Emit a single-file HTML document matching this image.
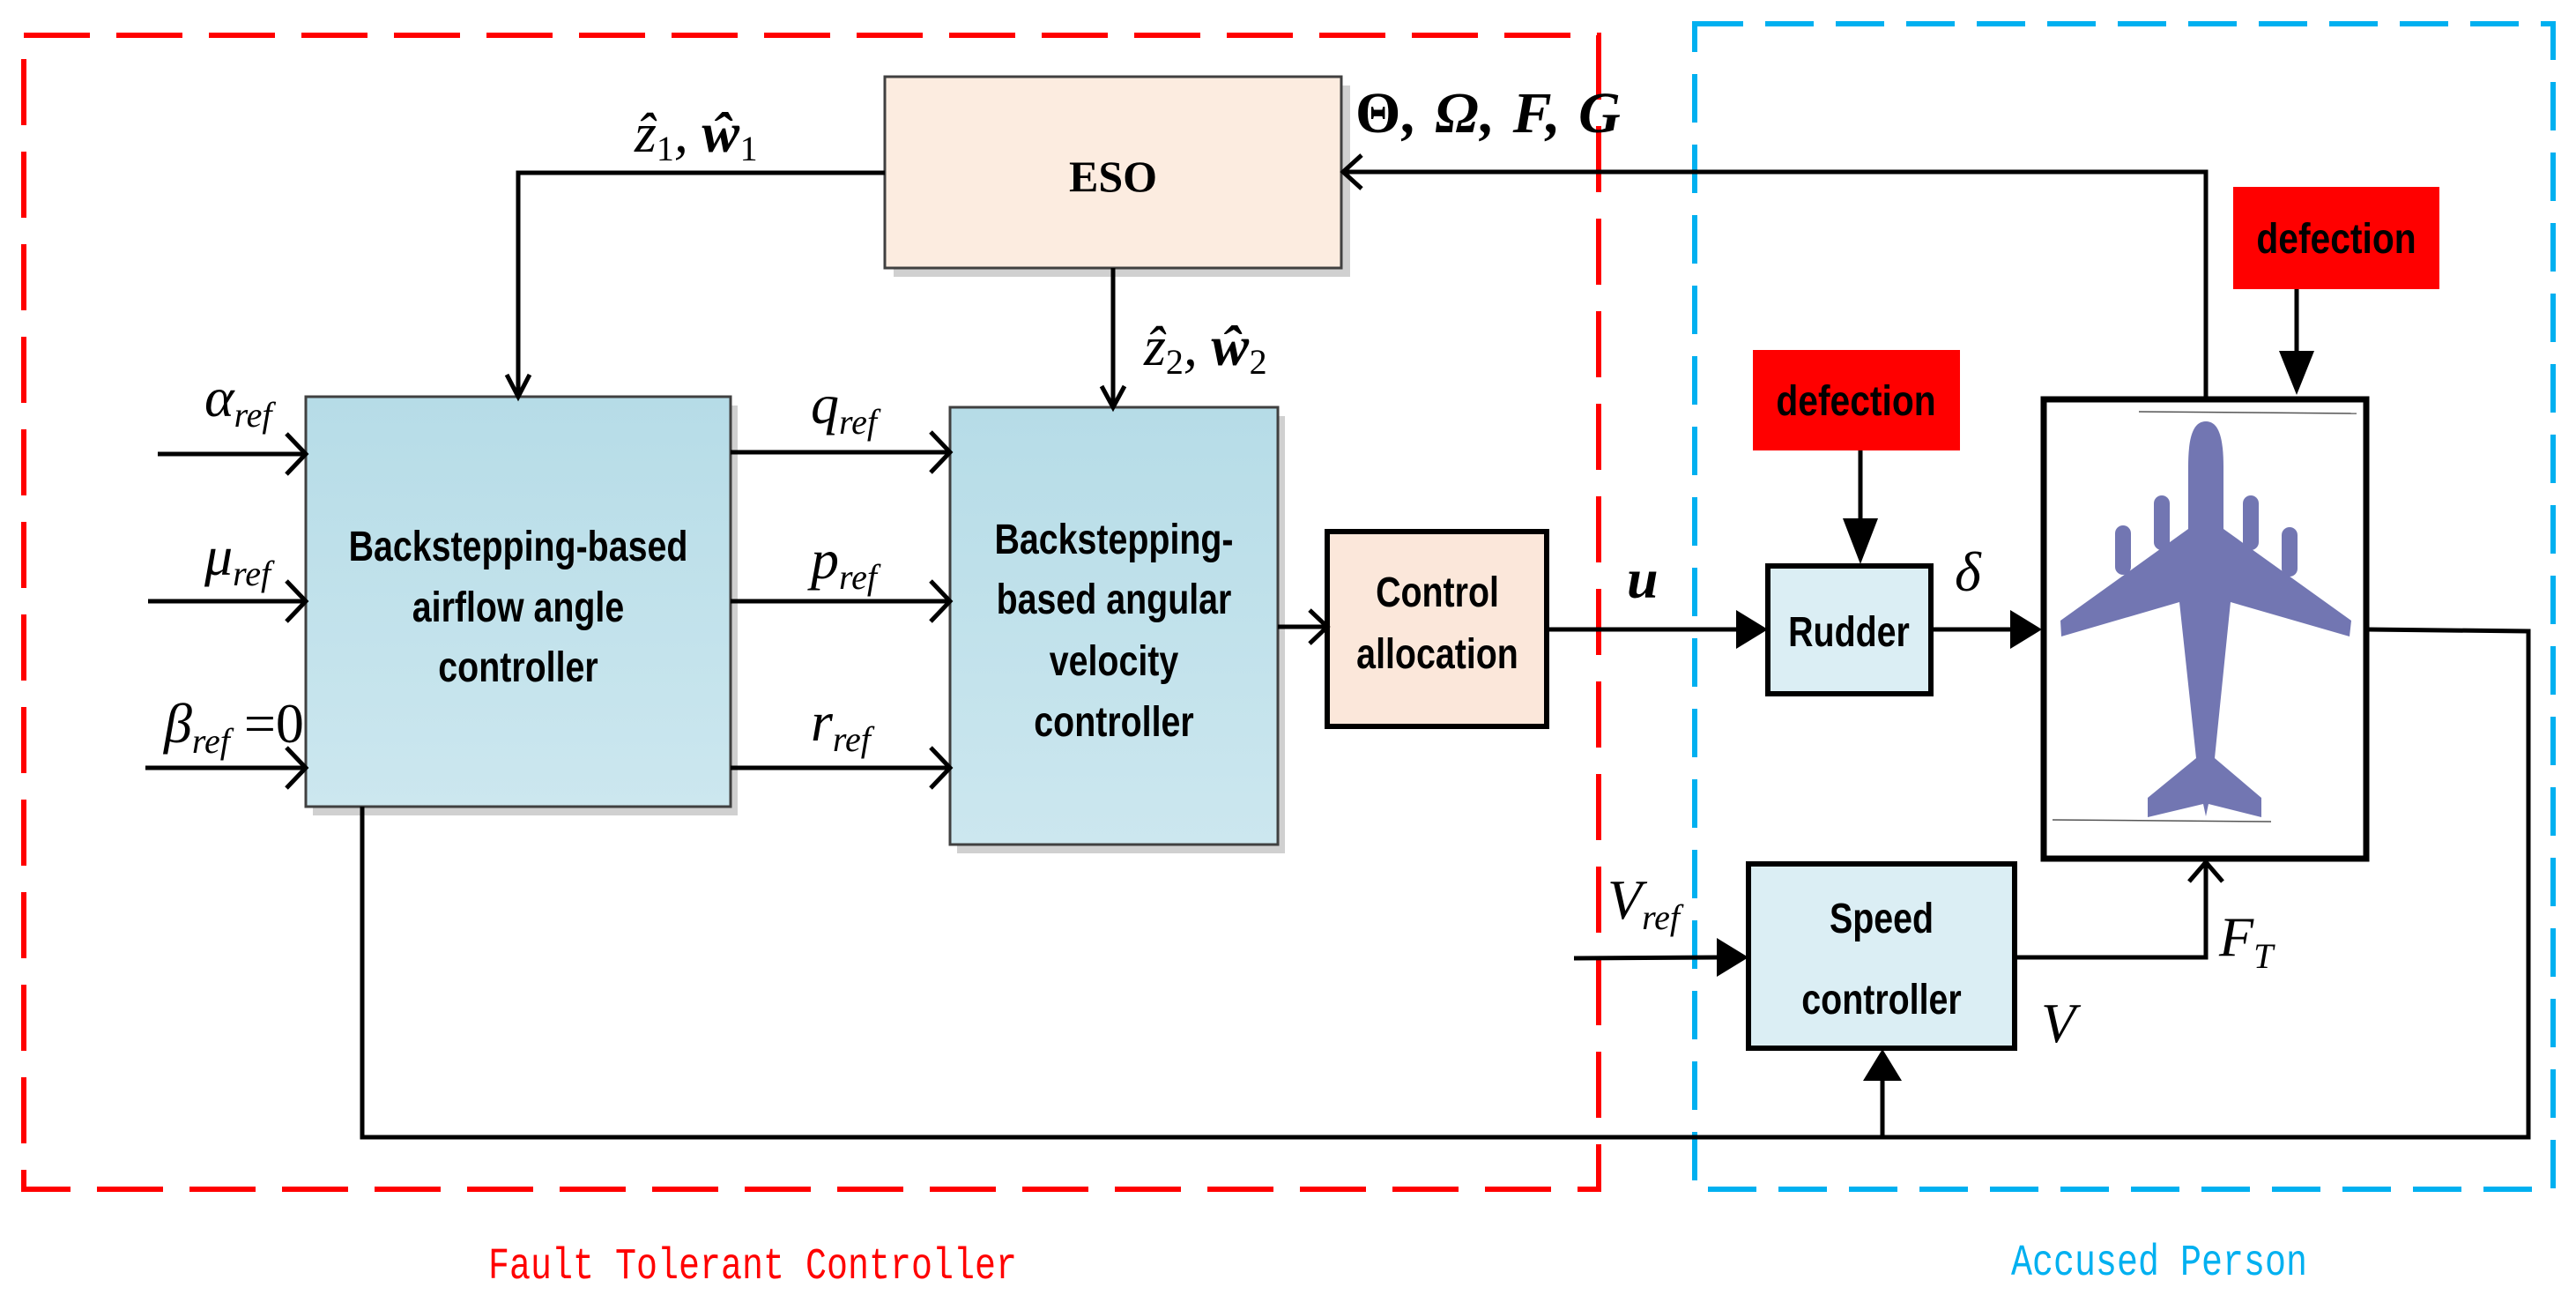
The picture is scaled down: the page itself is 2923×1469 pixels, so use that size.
<!DOCTYPE html>
<html><head><meta charset="utf-8"><style>
html,body{margin:0;padding:0;background:#fff}
svg{display:block}
.bx{font-family:"Liberation Sans Narrow","Liberation Sans",sans-serif;font-weight:bold;font-size:48px;text-anchor:middle;fill:#000}
.m{font-family:"Liberation Serif",serif;font-style:italic;font-size:64px;fill:#000}
.s{font-size:40px}
</style></head><body>
<svg width="2923" height="1469" viewBox="0 0 2923 1469" xmlns="http://www.w3.org/2000/svg">
<defs>
<linearGradient id="bl" x1="0" y1="0" x2="0" y2="1"><stop offset="0" stop-color="#b6dce7"/><stop offset="1" stop-color="#cce7ef"/></linearGradient>
</defs>
<rect x="27" y="40" width="1787" height="1309" fill="none" stroke="#f00" stroke-width="6" stroke-dasharray="75 30"/>
<rect x="1923" y="27" width="974" height="1322" fill="none" stroke="#00b0f0" stroke-width="6" stroke-dasharray="55 25"/>

<rect x="1014" y="97" width="518" height="217" fill="#d0d0d0"/>
<rect x="1004" y="87" width="518" height="217" fill="#fcece0" stroke="#404040" stroke-width="3"/>
<text x="1263" y="217" font-family="Liberation Serif,serif" font-weight="bold" font-size="50" text-anchor="middle">ESO</text>

<rect x="355" y="460" width="482" height="465" fill="#d0d0d0"/>
<rect x="347" y="450" width="482" height="465" fill="url(#bl)" stroke="#404040" stroke-width="3"/>
<g transform="translate(588,0) scale(0.82,1)">
<text class="bx" x="0" y="636">Backstepping-based</text>
<text class="bx" x="0" y="705">airflow angle</text>
<text class="bx" x="0" y="773">controller</text>
</g>

<rect x="1086" y="472" width="372" height="496" fill="#d0d0d0"/>
<rect x="1078" y="462" width="372" height="496" fill="url(#bl)" stroke="#404040" stroke-width="3"/>
<g transform="translate(1264,0) scale(0.82,1)">
<text class="bx" x="0" y="628">Backstepping-</text>
<text class="bx" x="0" y="696">based angular</text>
<text class="bx" x="0" y="766">velocity</text>
<text class="bx" x="0" y="835">controller</text>
</g>

<rect x="1506" y="603" width="249" height="221" fill="#fbe7da" stroke="#000" stroke-width="6"/>
<g transform="translate(1631,0) scale(0.82,1)">
<text class="bx" x="0" y="688">Control</text>
<text class="bx" x="0" y="758">allocation</text>
</g>

<rect x="2006" y="642" width="185" height="145" fill="#dbeef4" stroke="#000" stroke-width="6"/>
<g transform="translate(2098,0) scale(0.82,1)"><text class="bx" x="0" y="733">Rudder</text></g>

<rect x="1984" y="980" width="302" height="209" fill="#dbeef4" stroke="#000" stroke-width="6"/>
<g transform="translate(2135,0) scale(0.82,1)">
<text class="bx" x="0" y="1058">Speed</text>
<text class="bx" x="0" y="1150">controller</text>
</g>

<rect x="2534" y="212" width="234" height="116" fill="#f00"/>
<g transform="translate(2651,0) scale(0.85,1)"><text class="bx" x="0" y="287">defection</text></g>
<rect x="1989" y="397" width="235" height="114" fill="#f00"/>
<g transform="translate(2106,0) scale(0.85,1)"><text class="bx" x="0" y="471">defection</text></g>

<rect x="2319" y="453" width="366" height="521" fill="#fff" stroke="#000" stroke-width="7"/>
<line x1="2427" y1="467" x2="2674" y2="469" stroke="#555" stroke-width="1.5"/>
<line x1="2329" y1="930" x2="2577" y2="932" stroke="#555" stroke-width="1.5"/>
<g fill="#7276b2">
<rect x="2400" y="596" width="18" height="56" rx="9"/>
<rect x="2444" y="562" width="18" height="62" rx="9"/>
<rect x="2545" y="562" width="18" height="62" rx="9"/>
<rect x="2589" y="598" width="18" height="56" rx="9"/>
<path d="M2503 478 C2487 478 2483 500 2483 530 L2483 600 L2338 704 L2339 722 L2473 683 L2492 860 L2437 905 L2437 927 L2500 912 L2503 926 L2506 912 L2566 927 L2566 905 L2513 860 L2531 683 L2666 722 L2668 704 L2523 600 L2523 530 C2523 500 2519 478 2503 478 Z"/>
</g>

<g stroke="#000" stroke-width="5" fill="none">
<polyline points="1004,196 588,196 588,447"/>
<polyline points="575,425 588,450 601,425"/>
<line x1="1263" y1="304" x2="1263" y2="459"/>
<polyline points="1250,438 1263,462 1276,438"/>
<line x1="179" y1="515" x2="344" y2="515"/>
<polyline points="325,492 347,515 325,538"/>
<line x1="168" y1="682" x2="344" y2="682"/>
<polyline points="325,659 347,682 325,705"/>
<line x1="165" y1="871" x2="344" y2="871"/>
<polyline points="325,848 347,871 325,894"/>
<line x1="829" y1="513" x2="1075" y2="513"/>
<polyline points="1056,490 1078,513 1056,536"/>
<line x1="829" y1="682" x2="1075" y2="682"/>
<polyline points="1056,659 1078,682 1056,705"/>
<line x1="829" y1="871" x2="1075" y2="871"/>
<polyline points="1056,848 1078,871 1056,894"/>
<line x1="1450" y1="711" x2="1503" y2="711"/>
<polyline points="1486,692 1506,711 1486,730"/>
<line x1="1755" y1="714" x2="1975" y2="714"/>
<line x1="2191" y1="714" x2="2285" y2="714"/>
<polyline points="2503,451 2503,195 1525,195"/>
<polyline points="1545,176 1524,195 1545,214"/>
<polyline points="2686,714 2869,716 2869,1290 411,1290 411,915"/>
<line x1="2136" y1="1290" x2="2136" y2="1225"/>
<line x1="1786" y1="1087" x2="1950" y2="1086"/>
<polyline points="2286,1086 2503,1086 2503,978"/>
<polyline points="2484,1000 2503,978 2522,1000"/>
<line x1="2606" y1="328" x2="2606" y2="400"/>
<line x1="2111" y1="511" x2="2111" y2="590"/>
</g>
<g fill="#000">
<polygon points="1970,692 2006,714 1970,736"/>
<polygon points="2281,692 2317,714 2281,736"/>
<polygon points="1948,1064 1984,1086 1948,1108"/>
<polygon points="2114,1226 2136,1190 2158,1226"/>
<polygon points="2586,398 2606,448 2626,398"/>
<polygon points="2091,588 2111,640 2131,588"/>
</g>

<text class="m" x="720" y="172">ẑ<tspan class="s" font-style="normal" dy="10">1</tspan><tspan dy="-10">, </tspan><tspan font-weight="bold">ŵ</tspan><tspan class="s" font-style="normal" dy="10">1</tspan></text>
<text class="m" x="1298" y="414">ẑ<tspan class="s" font-style="normal" dy="10">2</tspan><tspan dy="-10">, </tspan><tspan font-weight="bold">ŵ</tspan><tspan class="s" font-style="normal" dy="10">2</tspan></text>
<text x="1538" y="150" font-family="Liberation Serif,serif" font-weight="bold" font-style="italic" font-size="66" letter-spacing="2"><tspan font-style="normal">Θ</tspan>, Ω, F, G</text>
<text class="m" x="232" y="472">α<tspan class="s" dy="12">ref</tspan></text>
<text class="m" x="232" y="652">μ<tspan class="s" dy="12">ref</tspan></text>
<text class="m" x="186" y="842">β<tspan class="s" dy="12">ref</tspan><tspan font-style="normal" dy="-12"> =0</tspan></text>
<text class="m" x="920" y="480">q<tspan class="s" dy="12">ref</tspan></text>
<text class="m" x="920" y="656">p<tspan class="s" dy="12">ref</tspan></text>
<text class="m" x="920" y="840">r<tspan class="s" dy="12">ref</tspan></text>
<text class="m" x="1846" y="678" font-weight="bold" font-size="66">u</text>
<text class="m" x="2218" y="670">δ</text>
<text class="m" x="1824" y="1042">V<tspan class="s" dy="12">ref</tspan></text>
<text class="m" x="2518" y="1084">F<tspan class="s" dy="14">T</tspan></text>
<text class="m" x="2316" y="1182">V</text>

<g transform="translate(554,0) scale(0.8,1)"><text x="0" y="1450" font-family="Liberation Mono,monospace" font-size="50" fill="#f00">Fault Tolerant Controller</text></g>
<g transform="translate(2282,0) scale(0.8,1)"><text x="0" y="1446" font-family="Liberation Mono,monospace" font-size="50" fill="#00b0f0">Accused Person</text></g>
</svg>
</body></html>
